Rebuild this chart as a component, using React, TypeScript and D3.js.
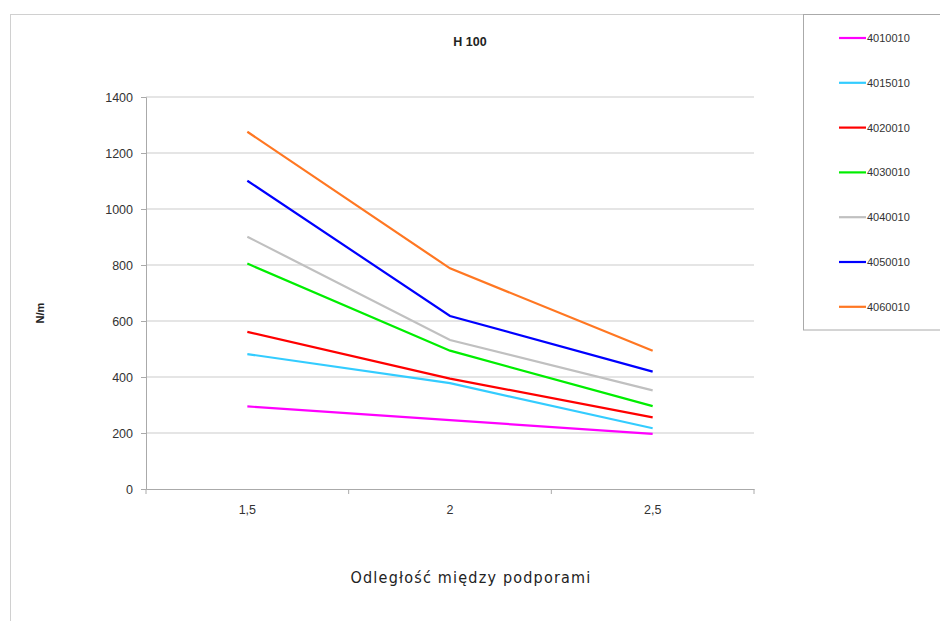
import React, { useEffect, useRef } from "react";
import * as d3 from "d3";

const categories = ["1,5", "2", "2,5"];
const seriesNames = ["4010010", "4015010", "4020010", "4030010", "4040010", "4050010", "4060010"];
const s4010010 = [295, 246, 197];
const s4015010 = [482, 378, 217];
const s4020010 = [561, 394, 256];
const s4030010 = [805, 494, 296];
const s4040010 = [901, 532, 352];
const s4050010 = [1101, 618, 419];
const s4060010 = [1276, 788, 494];
const seriesValues = [s4010010, s4015010, s4020010, s4030010, s4040010, s4050010, s4060010];
const seriesColors = ["#ff00ff", "#33ccff", "#ff0000", "#00ee00", "#c0c0c0", "#0000ff", "#ff7722"];
const yTicks = [0, 200, 400, 600, 800, 1000, 1200, 1400];

const W = 940;
const H = 621;

export default function App() {
  const ref = useRef<SVGSVGElement>(null);

  useEffect(() => {
    const svg = d3.select(ref.current);
    svg.selectAll("*").remove();

    const left = 146, right = 754, top = 97, bottom = 489;

    // frame
    svg.append("line").attr("x1", 10).attr("x2", 803).attr("y1", 14.5).attr("y2", 14.5).attr("stroke", "#d0d0d0");
    svg.append("line").attr("x1", 10.5).attr("x2", 10.5).attr("y1", 14).attr("y2", H).attr("stroke", "#d0d0d0");

    const x = d3.scaleBand<string>().domain(categories).range([left, right]);
    const y = d3.scaleLinear().domain([0, 1400]).range([bottom, top]);

    // gridlines
    svg.append("g").selectAll("line").data(yTicks.filter(t => t > 0)).join("line")
      .attr("x1", left).attr("x2", right)
      .attr("y1", d => y(d)).attr("y2", d => y(d))
      .attr("stroke", "#dcdcdc").attr("stroke-width", 1.6);

    // y axis
    const yAxis = svg.append("g").attr("transform", `translate(${left},0)`)
      .call(d3.axisLeft(y).tickValues(yTicks).tickSize(5).tickPadding(8).tickFormat(d3.format("d")));
    yAxis.select(".domain").attr("stroke", "#aaa");
    yAxis.selectAll(".tick line").attr("stroke", "#aaa");
    yAxis.selectAll("text").attr("font-family", "Liberation Sans, Arial, sans-serif").attr("font-size", 12.5).attr("fill", "#333");

    // x axis
    const xAxis = svg.append("g").attr("transform", `translate(0,${bottom})`)
      .call(d3.axisBottom(x).tickSize(0).tickPadding(16));
    xAxis.select(".domain").attr("stroke", "#aaa");
    xAxis.selectAll("text").attr("font-family", "Liberation Sans, Arial, sans-serif").attr("font-size", 12.5).attr("fill", "#333");
    const bounds = [...categories.map(c => x(c) as number), right];
    svg.append("g").selectAll("line").data(bounds).join("line")
      .attr("x1", d => d).attr("x2", d => d).attr("y1", bottom).attr("y2", bottom + 5)
      .attr("stroke", "#aaa");

    // lines
    const line = d3.line<number>()
      .x((_, i) => (x(categories[i]) as number) + x.bandwidth() / 2)
      .y(d => y(d));
    svg.append("g").selectAll("path").data(seriesValues).join("path")
      .attr("d", d => line(d))
      .attr("fill", "none")
      .attr("stroke", (_, i) => seriesColors[i])
      .attr("stroke-width", 2.2);

    // title
    svg.append("text").attr("x", 470).attr("y", 46).attr("text-anchor", "middle")
      .attr("font-family", "Liberation Sans, Arial, sans-serif").attr("font-weight", "bold").attr("font-size", 12.5)
      .attr("fill", "#222").text("H 100");

    // y label
    svg.append("text").attr("transform", `translate(44,313) rotate(-90)`).attr("text-anchor", "middle")
      .attr("font-family", "Liberation Sans, Arial, sans-serif").attr("font-weight", "bold").attr("font-size", 11)
      .attr("fill", "#222").text("N/m");

    // x label
    svg.append("text").attr("x", 471).attr("y", 583).attr("text-anchor", "middle")
      .attr("font-family", "DejaVu Sans Condensed, DejaVu Sans, sans-serif").attr("font-size", 16)
      .attr("letter-spacing", 1.2)
      .attr("fill", "#222").text("Odległość między podporami");

    // legend
    svg.append("rect").attr("x", 803.5).attr("y", 14.5).attr("width", 140).attr("height", 315.5)
      .attr("fill", "white").attr("stroke", "#aaa");
    const lg = svg.append("g").selectAll("g").data(seriesNames).join("g")
      .attr("transform", (_, i) => `translate(0,${38 + i * 44.8})`);
    lg.append("line").attr("x1", 839).attr("x2", 866).attr("y1", 0).attr("y2", 0)
      .attr("stroke", (_, i) => seriesColors[i]).attr("stroke-width", 2.2);
    lg.append("text").attr("x", 867).attr("y", 4).attr("font-family", "Liberation Sans, Arial, sans-serif")
      .attr("font-size", 11).attr("fill", "#333").text(d => d);
  }, []);

  return (
    <svg ref={ref} width={W} height={H} style={{ position: "absolute", left: 0, top: 0, background: "white" }} />
  );
}
